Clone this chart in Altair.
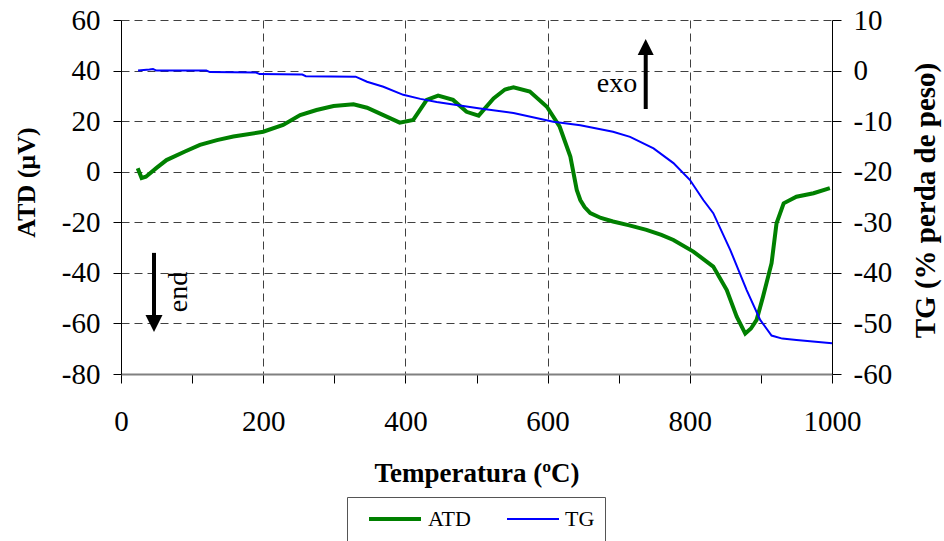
import altair as alt
import pandas as pd

# ---- data ----
atd_t = [23.5, 29, 35, 50, 64, 90, 111, 135, 158, 200, 228, 252, 275, 299, 327, 346, 369, 392, 411,
         430, 446, 467, 486, 503, 524, 540, 552, 575, 599, 617, 632, 641, 646, 652, 660, 675, 692,
         715, 739, 760, 777, 805, 833, 852, 866, 878, 886, 894, 903, 915, 922, 932, 950, 974, 997]
atd_v = [1.4, -2.5, -2.0, 1.5, 4.6, 8.0, 10.6, 12.5, 13.9, 15.8, 18.5, 22.4, 24.4, 26.0, 26.7, 25.3,
         22.4, 19.4, 20.5, 28.4, 30.1, 28.4, 23.7, 22.2, 29.0, 32.5, 33.4, 31.7, 25.7, 17.8, 6.0, -7.2,
         -11.2, -14.0, -16.4, -18.3, -19.7, -21.2, -23.0, -25.0, -27.0, -31.6, -37.5, -46.8, -57.3,
         -64.0, -62.0, -58.6, -49.4, -36.2, -20.4, -12.5, -9.9, -8.5, -6.5]

tg_t = [24, 40, 45, 50, 120, 125, 190, 195, 255, 260, 330, 346, 369, 397, 421, 444, 486, 505, 552,
        608, 646, 692, 716, 749, 777, 800, 819, 833, 857, 880, 899, 915, 930, 950, 1000]
tg_v = [0.0, 0.2, 0.3, 0.0, 0.0, -0.3, -0.4, -0.7, -0.8, -1.1, -1.2, -2.2, -3.2, -4.8, -5.6, -6.2,
        -7.1, -7.5, -8.4, -10.1, -10.8, -12.1, -13.1, -15.4, -18.3, -21.6, -25.6, -28.2, -35.5,
        -43.4, -49.3, -52.4, -53.0, -53.3, -53.9]

series = ["ATD", "TG"]
series_colors = ["#008000", "#0000ff"]
series_widths = [4, 2]

x_ticks = list(range(0, 1001, 100))
left_ticks = list(range(-80, 61, 20))
right_ticks = list(range(-60, 11, 10))

# annotations (in data units of the left axis)
shaft_t = [738, 46.4]
shaft_v = [24.8, -32.1]
shaft_v2 = [48.0, -57.8]
head_up_t, head_up_v = [738], [49.3]
head_dn_t, head_dn_v = [46.4], [-60.0]
text_t = [697.6, 92.8]
text_v = [31.5, -47.6]
text_s = ["exo", "end"]
text_a = [0, 270]

FONT = "Liberation Serif"

df_atd = pd.DataFrame({"T": atd_t, "v": atd_v, "serie": "ATD"})
df_tg = pd.DataFrame({"T": tg_t, "v": tg_v, "serie": "TG"})
df_shaft = pd.DataFrame({"T": shaft_t, "v": shaft_v, "v2": shaft_v2})
df_up = pd.DataFrame({"T": head_up_t, "v": head_up_v})
df_dn = pd.DataFrame({"T": head_dn_t, "v": head_dn_v})
df_txt = pd.DataFrame({"T": text_t, "v": text_v, "s": text_s, "a": text_a})

x_enc = alt.X(
    "T:Q",
    scale=alt.Scale(domain=[0, 1000], nice=False, zero=False),
    axis=alt.Axis(
        values=x_ticks,
        labelExpr="datum.value % 200 === 0 ? '' + datum.value : ''",
        tickSize=9, tickColor="black", tickWidth=1,
        domainColor="#808080", domainWidth=2,
        labelPadding=24, labelFontSize=29, labelFont=FONT, labelColor="black",
        labelFlush=False, labelOverlap=False,
        grid=True,
        gridOpacity={"condition": {"test": "datum.value % 200 === 0 && datum.value > 0 && datum.value < 1000", "value": 1}, "value": 0},
        gridDash=[8, 5], gridColor="#404040", gridWidth=1,
        title="Temperatura (ºC)", titleFont=FONT, titleFontSize=27, titleFontWeight="bold",
        titleColor="black", titleY=107, titleBaseline="alphabetic",
    ),
)

y_left = alt.Y(
    "v:Q",
    scale=alt.Scale(domain=[-80, 60], nice=False, zero=False),
    axis=alt.Axis(
        values=left_ticks,
        labelExpr="'' + datum.value",
        tickSize=8, tickColor="black", domainColor="black", domainWidth=1,
        labelPadding=13, labelFontSize=29, labelFont=FONT, labelColor="black",
        labelFlush=False, labelOverlap=False,
        grid=True,
        gridOpacity={"condition": {"test": "datum.value > -80", "value": 1}, "value": 0},
        gridDash=[8, 5], gridColor="#404040", gridWidth=1,
        title="ATD (µV)", titleFont=FONT, titleFontSize=26, titleFontWeight="bold",
        titleColor="black", titleAngle=270, titleX=-95, titleY=162, titleBaseline="middle",
    ),
)

y_right = alt.Y(
    "v:Q",
    scale=alt.Scale(domain=[-60, 10], nice=False, zero=False),
    axis=alt.Axis(
        orient="right",
        values=right_ticks,
        labelExpr="'' + datum.value",
        tickSize=9, tickColor="black", domainColor="black", domainWidth=1,
        labelPadding=12, labelFontSize=29, labelFont=FONT, labelColor="black",
        labelFlush=False, labelOverlap=False,
        grid=False,
        title="TG (% perda de peso)", titleFont=FONT, titleFontSize=29, titleFontWeight="bold",
        titleColor="black", titleAngle=270, titleX=93, titleY=180, titleBaseline="middle",
    ),
)

legend = alt.Legend(
    title=None, orient="none", legendX=226, legendY=477, direction="horizontal",
    symbolType="stroke", symbolSize=2704, clipHeight=24, symbolOffset=10,
    labelFont=FONT, labelFontSize=22, labelColor="black", labelOffset=5,
    padding=10, strokeColor="#555555", fillColor="white", columnPadding=25,
)

color_enc = alt.Color("serie:N", scale=alt.Scale(domain=series, range=series_colors), legend=legend)
width_enc = alt.StrokeWidth("serie:N", scale=alt.Scale(domain=series, range=series_widths), legend=legend)

atd_line = alt.Chart(df_atd).mark_line().encode(x=x_enc, y=y_left, color=color_enc, strokeWidth=width_enc)
tg_line = alt.Chart(df_tg).mark_line().encode(x=x_enc, y=y_right, color=color_enc, strokeWidth=width_enc)

shafts = alt.Chart(df_shaft).mark_rule(color="black", strokeWidth=4).encode(x=x_enc, y=y_left, y2="v2:Q")
head_up = alt.Chart(df_up).mark_point(
    shape="M0,-1L1,1L-1,1Z", filled=True, color="black", opacity=1, size=256
).encode(x=x_enc, y=y_left)
head_dn = alt.Chart(df_dn).mark_point(
    shape="M-1,-1L1,-1L0,1Z", filled=True, color="black", opacity=1, size=289
).encode(x=x_enc, y=y_left)
texts = alt.Chart(df_txt).mark_text(
    font=FONT, fontSize=28, color="black", align="center", baseline="alphabetic"
).encode(x=x_enc, y=y_left, text="s:N", angle=alt.Angle("a:Q", scale=None))

left_layer = alt.layer(atd_line, shafts, head_up, head_dn, texts)

chart = alt.layer(left_layer, tg_line).resolve_scale(y="independent").properties(
    width=711, height=354,
    padding={"left": 121, "top": 20, "right": 112, "bottom": 167},
    autosize=alt.AutoSizeParams(type="none"),
    background="white",
).configure_view(stroke=None)

chart.save("out.html", embed_options={"renderer": "svg", "actions": False})
